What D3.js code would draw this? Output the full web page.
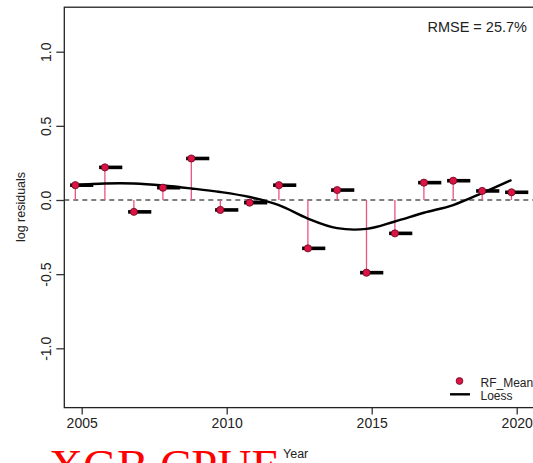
<!DOCTYPE html>
<html>
<head>
<meta charset="utf-8">
<script src="https://cdn.jsdelivr.net/npm/d3@7"></script>
<style>
  body { margin: 0; background: #fff; }
  svg { display: block; font-family: "Liberation Sans", Arial, sans-serif; }
</style>
</head>
<body>
<svg id="chart" width="533" height="463"></svg>
<script>
// years of the annual bars, and the (slightly earlier) time of each residual point
let years = [2005, 2006, 2007, 2008, 2009, 2010, 2011, 2012, 2013, 2014, 2015, 2016, 2017, 2018, 2019, 2020];
let pointTime = [2004.78, 2005.8, 2006.8, 2007.8, 2008.78, 2009.78, 2010.79, 2011.8, 2012.8, 2013.81, 2014.82, 2015.8, 2016.8, 2017.81, 2018.81, 2019.82];
let residuals = [0.10, 0.22, -0.08, 0.083, 0.28, -0.067, -0.018, 0.10, -0.326, 0.067, -0.49, -0.225, 0.117, 0.13, 0.061, 0.052];
let loess = [0.10, 0.111, 0.111, 0.098, 0.078, 0.054, 0.02, -0.035, -0.125, -0.19, -0.195, -0.145, -0.086, -0.034, 0.047, 0.135];
let xTicks = [2005, 2010, 2015, 2020];
let yTicks = [-1, -0.5, 0, 0.5, 1];

let x = d3.scaleLinear().domain([2005, 2020]).range([81.7, 516.7]);
let y = d3.scaleLinear().domain([-1, 1]).range([348.3, 51.7]);

let plotLeft = x(2004.4), plotRight = x(2022), plotTop = y(1.3), plotBottom = y(-1.4);

let svg = d3.select('#chart');

// dashed zero line
svg.append('line')
  .attr('x1', plotLeft).attr('x2', plotRight)
  .attr('y1', y(0)).attr('y2', y(0))
  .style('stroke', '#555').style('stroke-width', 1.3)
  .style('stroke-dasharray', '5,4');

// stems
svg.selectAll('line.stem')
  .data(residuals)
  .enter()
  .append('line')
  .attr('class', 'stem')
  .attr('x1', (d, i) => x(pointTime[i])).attr('x2', (d, i) => x(pointTime[i]))
  .attr('y1', y(0)).attr('y2', d => y(d))
  .style('stroke', '#e8557f').style('stroke-width', 1.3);

// annual bars
svg.selectAll('line.bar')
  .data(residuals)
  .enter()
  .append('line')
  .attr('class', 'bar')
  .attr('x1', (d, i) => x(years[i] - 0.4)).attr('x2', (d, i) => x(years[i] + 0.4))
  .attr('y1', d => y(d)).attr('y2', d => y(d))
  .style('stroke', '#000').style('stroke-width', 3.6);

// loess line
let line = d3.line()
  .x((d, i) => x(pointTime[i]))
  .y(d => y(d))
  .curve(d3.curveCatmullRom);

svg.append('path')
  .attr('d', line(loess))
  .style('fill', 'none').style('stroke', '#000').style('stroke-width', 2.4);

// points
svg.selectAll('circle.pt')
  .data(residuals)
  .enter()
  .append('circle')
  .attr('class', 'pt')
  .attr('cx', (d, i) => x(pointTime[i]))
  .attr('cy', d => y(d))
  .attr('r', 3.6)
  .style('fill', '#dc1446').style('stroke', '#6a0a22').style('stroke-width', 0.8);

// frame
svg.append('rect')
  .attr('x', plotLeft).attr('y', plotTop)
  .attr('width', plotRight - plotLeft).attr('height', plotBottom - plotTop)
  .style('fill', 'none').style('stroke', '#222').style('stroke-width', 1.3);

// axes
let xAxis = svg.append('g')
  .attr('transform', `translate(0, ${plotBottom})`)
  .call(d3.axisBottom(x).tickValues(xTicks).tickSize(7).tickFormat(d3.format('d')));
xAxis.select('.domain').remove();
xAxis.selectAll('line').style('stroke', '#333').style('stroke-width', 1.3);
xAxis.selectAll('text')
  .attr('y', 10).attr('dy', '0.71em')
  .style('font-size', '14px').style('fill', '#222')
  .style('font-family', '"Liberation Sans", Arial, sans-serif');

let yAxis = svg.append('g')
  .attr('transform', `translate(${plotLeft}, 0)`)
  .call(d3.axisLeft(y).tickValues(yTicks).tickSize(8).tickFormat(d => d.toFixed(1)));
yAxis.select('.domain').remove();
yAxis.selectAll('line').style('stroke', '#333').style('stroke-width', 1.3);
yAxis.selectAll('text')
  .attr('x', 0).attr('dy', 0)
  .attr('transform', 'translate(-13, 0) rotate(-90)')
  .attr('text-anchor', 'middle')
  .style('font-size', '14px').style('fill', '#222')
  .style('font-family', '"Liberation Sans", Arial, sans-serif');

// axis titles
svg.append('text')
  .attr('transform', 'translate(25, 207) rotate(-90)')
  .attr('text-anchor', 'middle')
  .style('font-size', '12.5px').style('fill', '#222')
  .text('log residuals');

svg.append('text')
  .attr('x', 283).attr('y', 458)
  .style('font-size', '12.5px').style('fill', '#222')
  .text('Year');

// RMSE
svg.append('text')
  .attr('x', 527).attr('y', 31.5)
  .attr('text-anchor', 'end')
  .style('font-size', '14.5px').style('fill', '#222')
  .text('RMSE = 25.7%');

// legend
svg.append('circle')
  .attr('cx', 459.5).attr('cy', 381).attr('r', 3.4)
  .style('fill', '#dc1446').style('stroke', '#6a0a22').style('stroke-width', 0.8);
svg.append('text')
  .attr('x', 480.5).attr('y', 386.5)
  .style('font-size', '12px').style('fill', '#222')
  .text('RF_Mean');
svg.append('line')
  .attr('x1', 450).attr('x2', 470).attr('y1', 394.3).attr('y2', 394.3)
  .style('stroke', '#000').style('stroke-width', 2.4);
svg.append('text')
  .attr('x', 480.5).attr('y', 399.5)
  .style('font-size', '12px').style('fill', '#222')
  .text('Loess');

// big red caption, cut off by the bottom edge as in the reference
svg.append('text')
  .attr('x', 49).attr('y', 482)
  .style('font-family', '"Liberation Serif", "Times New Roman", serif')
  .style('font-size', '47px').style('fill', '#ff0000')
  .text('XGB CPUE');
</script>
</body>
</html>
